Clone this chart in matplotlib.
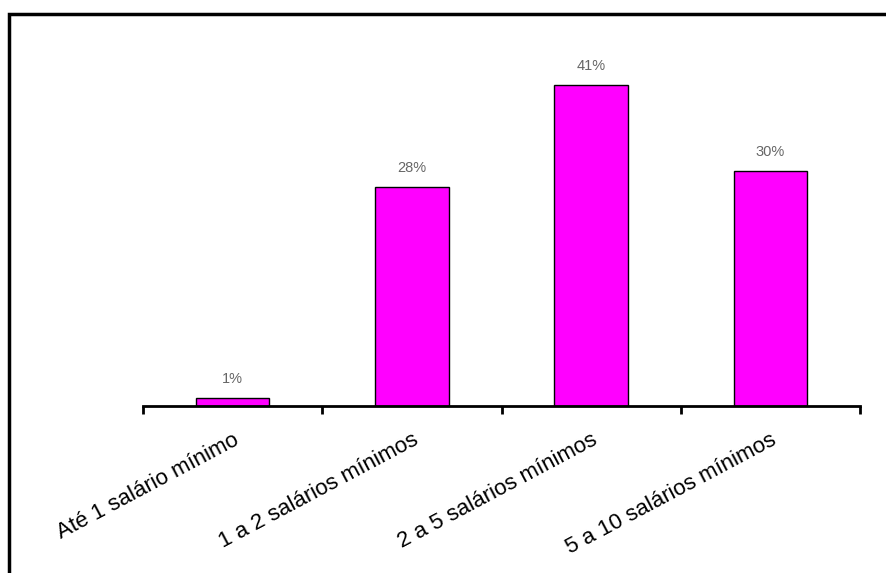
import matplotlib
matplotlib.use("Agg")
import matplotlib.pyplot as plt
from matplotlib.patches import Rectangle
import numpy as np

categories = ["Até 1 salário mínimo", "1 a 2 salários mínimos",
              "2 a 5 salários mínimos", "5 a 10 salários mínimos"]
values = [1, 28, 41, 30]
value_labels = ["1%", "28%", "41%", "30%"]

W, H = 886, 573
fig = plt.figure(figsize=(W / 100, H / 100), dpi=100)
fig.patch.set_facecolor("white")

# outer border (cut off at right/bottom)
fig.patches.append(Rectangle((9 / W, -0.2), 1.2, 1.2 - 14 / H,
                             transform=fig.transFigure, fill=False,
                             edgecolor="black", linewidth=2.5))

left, right = 143 / W, 860 / W
bottom = (H - 406) / H
top_px = 40
ax = fig.add_axes([left, bottom, right - left, (406 - top_px) / H])
px_per_pct = 7.82
ax.set_ylim(0, (406 - top_px) / px_per_pct)
x = np.arange(len(categories))
ax.set_xlim(-0.5, len(categories) - 0.5)
ax.bar(x, values, width=0.41, color="#FF00FF", edgecolor="black", linewidth=1.0)

for xi, v, lab in zip(x, values, value_labels):
    ax.annotate(lab, (xi, v), xytext=(0, 9), textcoords="offset points",
                ha="center", va="bottom", fontsize=10.5, color="#666666",
                family="Liberation Sans")

for s in ["top", "right", "left"]:
    ax.spines[s].set_visible(False)
ax.spines["bottom"].set_linewidth(2)
ax.set_yticks([])
ax.set_xticks(x)
ax.set_xticklabels(categories, rotation=28, ha="right", rotation_mode="anchor",
                   fontsize=16, family="Liberation Sans")
ax.tick_params(axis="x", which="major", length=0, pad=17)
ax.set_xticks(np.arange(-0.5, len(categories)), minor=True)
ax.tick_params(axis="x", which="minor", length=6, width=2, direction="out")

fig.savefig("out.png", dpi=100)
